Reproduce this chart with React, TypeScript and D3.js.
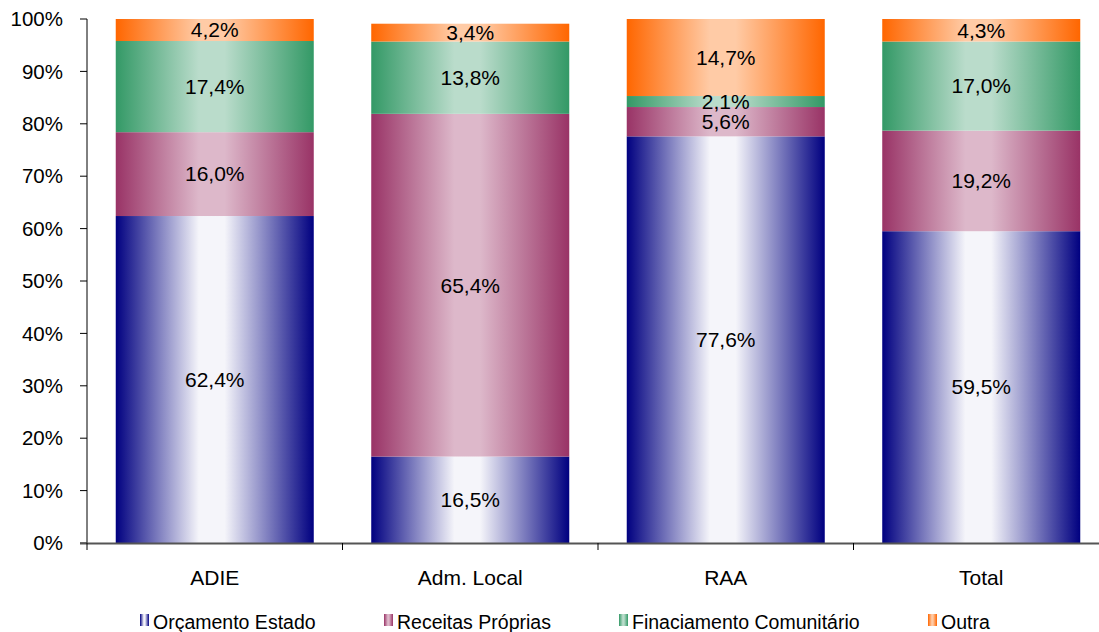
import React from "react";
import * as d3 from "d3";

const categories = ["ADIE", "Adm. Local", "RAA", "Total"];
const seriesNames = ["Orçamento Estado", "Receitas Próprias", "Finaciamento Comunitário", "Outra"];
const orcamento = [62.4, 16.5, 77.6, 59.5];
const receitas = [16.0, 65.4, 5.6, 19.2];
const financiamento = [17.4, 13.8, 2.1, 17.0];
const outra = [4.2, 3.4, 14.7, 4.3];
const yTicks = [0, 10, 20, 30, 40, 50, 60, 70, 80, 90, 100];

const seriesValues = [orcamento, receitas, financiamento, outra];
const darkColors = ["#000080", "#993366", "#339966", "#ff6600"];
const lightColors = ["#f5f5fa", "#ddb8ca", "#badccb", "#ffcba6"];

const W = 1099;
const H = 632;
const FONT = "Arial, 'Liberation Sans', sans-serif";

export default function App() {
  const x = d3
    .scaleBand<string>()
    .domain(categories)
    .range([87, 1109])
    .paddingInner(0.225)
    .paddingOuter(0.1125);
  const y = d3.scaleLinear().domain([0, 100]).range([543, 19]);

  const rows = categories.map((c, i) => {
    const o: any = { cat: c };
    seriesNames.forEach((s, k) => (o[s] = seriesValues[k][i]));
    return o;
  });
  const stacked = d3.stack<any>().keys(seriesNames)(rows);
  const fmt = (v: number) => v.toFixed(1).replace(".", ",") + "%";

  const step = x.step();
  const boundaries = categories.map((_, i) => 87 + step * i);

  const legendX = [139, 383, 618, 927];

  return (
    <svg width={W} height={H} style={{ position: "absolute", left: 0, top: 0 }} fontFamily={FONT}>
      <defs>
        {darkColors.map((dc, k) => (
          <linearGradient key={k} id={`g${k}`} x1="0" y1="0" x2="1" y2="0">
            <stop offset="0" stopColor={dc} />
            <stop offset="0.42" stopColor={lightColors[k]} />
            <stop offset="0.55" stopColor={lightColors[k]} />
            <stop offset="1" stopColor={dc} />
          </linearGradient>
        ))}
      </defs>
      <rect x={0} y={0} width={W} height={H} fill="#fff" />

      {stacked.map((layer, k) => (
        <g key={k}>
          {layer.map((d, i) => (
            <rect
              key={i}
              x={x(categories[i])}
              y={y(d[1])}
              width={x.bandwidth()}
              height={y(d[0]) - y(d[1])}
              fill={`url(#g${k})`}
            />
          ))}
        </g>
      ))}

      {stacked.map((layer, k) => (
        <g key={"l" + k}>
          {layer.map((d, i) => (
            <text
              key={i}
              x={(x(categories[i]) as number) + x.bandwidth() / 2}
              y={(y(d[0]) + y(d[1])) / 2}
              dy="0.35em"
              textAnchor="middle"
              fontSize={21}
              fill="#000"
            >
              {fmt(seriesValues[k][i])}
            </text>
          ))}
        </g>
      ))}

      {/* y axis */}
      <line x1={87} x2={87} y1={19} y2={543} stroke="#000" strokeWidth={1} />
      {yTicks.map((t) => (
        <g key={t}>
          <line x1={80} x2={87} y1={y(t)} y2={y(t)} stroke="#000" strokeWidth={1} />
          <text x={63} y={y(t)} dy="0.35em" textAnchor="end" fontSize={20.5} fill="#000">
            {t}%
          </text>
        </g>
      ))}

      {/* x axis */}
      <line x1={80} x2={1099} y1={543.5} y2={543.5} stroke="#555" strokeWidth={2} />
      {boundaries.map((b, i) => (
        <line key={i} x1={b} x2={b} y1={543} y2={550} stroke="#000" strokeWidth={1} />
      ))}
      {categories.map((c) => (
        <text
          key={c}
          x={(x(c) as number) + x.bandwidth() / 2}
          y={585}
          textAnchor="middle"
          fontSize={21}
          fill="#000"
        >
          {c}
        </text>
      ))}

      {/* legend */}
      {seriesNames.map((s, k) => (
        <g key={s}>
          <rect x={legendX[k] + 1} y={614} width={9} height={12} fill={`url(#g${k})`} />
          <text x={legendX[k] + 14} y={629} fontSize={19.5} fill="#000">
            {s}
          </text>
        </g>
      ))}
    </svg>
  );
}
